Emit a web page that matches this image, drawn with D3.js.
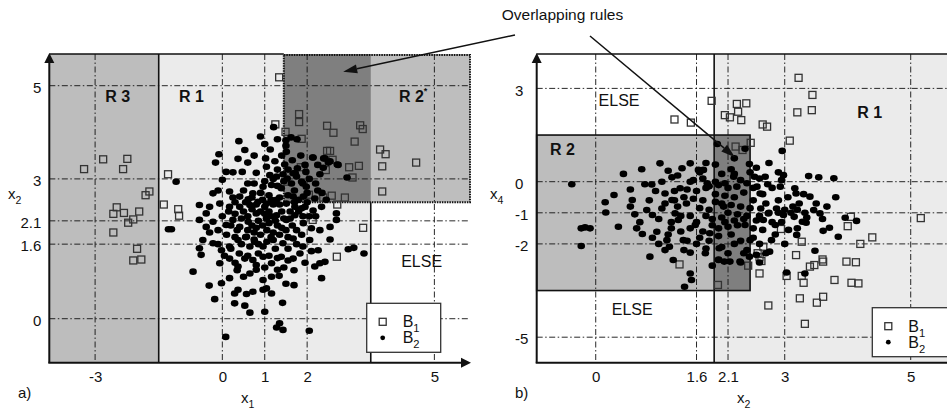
<!DOCTYPE html>
<html>
<head>
<meta charset="utf-8">
<script src="https://cdn.jsdelivr.net/npm/d3@7"></script>
<style>
  body { margin: 0; background: #fff; }
  svg { display: block; font-family: "Liberation Sans", Arial, sans-serif; }
</style>
</head>
<body>
<div id="chart"></div>
<script>
// ---- Data ----
// panel a: x1 (horizontal) vs x2 (vertical)
const aTicksX = [-3, 0, 1, 2, 5];
const aTicksY = [0, 1.6, 2.1, 3, 5];
// panel b: x2 (horizontal) vs x4 (vertical)
const bTicksX = [0, 1.6, 2.1, 3, 5];
const bTicksY = [-5, -2, -1, 0, 3];

// rule boxes (data units, Infinity = open side)
const aRuleR3 = { x: [-Infinity, -1.5], y: [-Infinity, Infinity] };
const aRuleR1 = { x: [-1.5, 3.5], y: [-Infinity, Infinity] };
const aRuleR2 = { x: [1.45, Infinity], y: [2.5, Infinity] };
const bRuleR1 = { x: [1.88, Infinity], y: [-Infinity, Infinity] };
const bRuleR2 = { x: [-Infinity, 2.45], y: [-3.5, 1.5] };

// class B1 (squares), panel a
const aB1 = [[1.34,5.18],[-3.26,3.21],[-2.81,3.42],[-2.24,3.43],[-2.34,3.21],[-1.28,3.10],[-1.72,2.73],[-1.81,2.65],
  [-2.49,2.39],[-2.57,2.25],[-2.32,2.27],[-1.96,2.30],[-2.10,2.13],[-2.22,2.06],[-2.57,1.85],[-2.01,1.50],[-2.10,1.25],
  [-1.91,1.27],[-1.38,2.45],[-1.04,2.35],[-1.02,2.21],[1.25,4.17],[1.49,4.01],[1.81,4.39],[1.81,4.22],[1.87,3.86],
  [2.47,4.14],[2.62,3.99],[3.25,4.15],[3.31,4.07],[3.12,3.80],[2.47,3.60],[2.54,3.60],[2.60,3.41],[2.44,3.19],[1.85,3.25],
  [2.99,3.25],[3.22,3.28],[3.07,3.03],[1.48,2.94],[2.04,2.66],[2.38,2.60],[2.58,2.64],[2.89,2.60],[2.71,2.45],[3.72,3.63],
  [3.85,3.53],[3.77,3.27],[3.77,2.73],[4.57,3.35],[2.13,2.12],[3.32,1.95],[2.70,1.33]];

// class B2 (dots), panel a
const aB2 = [[1.21,4.11],[0.90,3.91],[0.39,3.81],[0.53,3.62],[1.13,3.63],[-0.08,3.53],[0.37,3.43],[-0.16,3.35],[1.02,3.44],
  [1.24,3.38],[1.50,3.83],[1.62,3.89],[1.76,3.85],[1.50,3.71],[1.51,3.58],[2.14,3.46],[2.39,3.44],[2.50,3.35],[2.73,3.30],
  [1.04,3.26],[1.30,3.20],[0.09,3.15],[0.25,3.14],[0.47,3.15],[0.80,3.13],[1.12,3.08],[1.28,3.05],[1.43,3.10],[1.67,3.12],
  [1.77,3.23],[1.97,3.15],[2.38,3.24],[2.94,3.03],[-1.09,2.94],[0.00,2.98],[-0.22,2.69],[0.17,2.73],[0.41,2.62],[0.61,2.56],
  [0.72,2.69],[0.96,2.83],[1.16,2.87],[1.39,2.80],[1.63,2.90],[1.87,2.94],[1.98,2.83],[1.67,2.62],[1.91,2.62],[2.18,2.58],
  [-0.54,2.44],[-0.38,2.26],[-0.06,2.47],[0.17,2.40],[0.41,2.40],[0.65,2.44],[0.84,2.51],[1.04,2.47],[1.28,2.55],[1.51,2.47],
  [1.71,2.40],[1.87,2.37],[2.14,2.32],[2.34,2.40],[2.69,2.26],[2.69,2.12],[2.54,1.97],[-1.27,1.92],[-1.20,1.92],[-0.54,2.12],
  [-0.38,1.97],[-0.22,2.08],[-0.10,1.90],[0.09,2.01],[0.25,2.12],[0.41,1.97],[0.61,2.08],[0.80,2.26],[1.04,2.15],[1.28,2.22],
  [1.51,2.12],[1.71,2.22],[1.91,2.05],[2.10,1.94],[2.30,1.90],[2.54,1.70],[-0.46,1.69],[-0.22,1.62],[-0.02,1.47],[0.17,1.55],
  [0.37,1.69],[0.57,1.76],[0.76,1.65],[0.96,1.55],[1.20,1.69],[1.43,1.62],[1.67,1.72],[1.87,1.80],[2.06,1.69],[-0.54,1.51],
  [-0.50,1.37],[-0.06,1.19],[0.17,1.29],[0.37,1.12],[0.53,1.29],[0.72,1.26],[0.96,1.33],[1.16,1.19],[1.39,1.33],[1.67,1.29],
  [1.83,1.40],[2.26,1.47],[2.97,1.49],[3.10,1.52],[3.34,1.40],[2.18,1.12],[2.30,1.19],[2.42,1.22],[2.34,0.87],[-0.69,1.01],
  [-0.31,0.71],[-0.02,0.76],[0.17,0.87],[0.35,1.04],[0.65,0.97],[0.96,0.83],[1.16,0.90],[1.34,0.92],[1.69,1.04],[1.69,0.72],
  [-0.18,0.42],[0.29,0.54],[0.37,0.62],[0.57,0.53],[0.72,0.58],[0.96,0.62],[1.04,0.65],[1.16,0.54],[1.42,0.34],[0.29,0.33],
  [0.53,0.28],[0.65,0.13],[1.00,0.15],[1.28,-0.19],[1.35,-0.10],[1.43,-0.24],[2.05,-0.26],[0.08,-0.39],[1.53,3.01],[1.75,3.05],
  [1.47,3.31],[1.72,3.12],[2.13,3.46],[2.42,3.44],[2.54,3.38],[2.71,3.31],
  [0.50,2.30],[0.60,2.20],[0.70,2.35],[0.90,2.30],[1.00,2.40],[1.10,2.30],[1.20,2.45],[0.85,2.10],[0.95,2.00],[1.10,2.05],
  [1.30,2.00],[1.40,2.30],[0.60,1.90],[0.75,1.85],[0.90,1.80],[1.05,1.90],[1.20,1.85],[1.35,1.80],[1.50,1.90],[0.30,2.25],
  [0.20,2.00],[0.10,1.80],[0.30,1.75],[0.45,1.60],[0.65,1.55],[0.85,1.60],[1.05,1.65],[1.25,1.50],[1.55,1.50],[1.65,2.00],
  [1.75,1.90],[1.80,2.55],[1.55,2.65],[1.35,2.60],[1.10,2.65],[0.90,2.70],[0.50,2.75],[0.30,2.50],[0.00,2.20],[-0.10,1.60],
  [1.60,2.30],[1.90,2.20],[2.00,2.50],[1.45,2.95],[1.20,3.00],[1.00,2.95],[0.75,2.90],[1.70,2.75],[2.20,2.20],[0.40,1.40],
  [0.60,1.35],[0.85,1.40],[1.10,1.35],[1.30,1.30],[1.55,1.25],[0.20,1.50],[1.90,1.55],[2.10,1.45],[1.00,1.10],[0.80,1.15],
  [1.30,1.05],[0.50,0.90],[1.50,0.75],[1.90,2.90],[2.05,3.00],[2.20,2.90],[2.45,2.55],[2.35,2.70],
  [0.45,2.15],[0.55,2.50],[0.70,2.60],[0.80,2.45],[0.95,2.55],[1.15,2.20],[1.25,2.10],[1.35,2.45],[1.45,2.15],[1.60,2.15],
  [1.70,2.50],[1.80,2.30],[1.95,2.40],[2.05,2.20],[0.70,2.00],[0.80,1.95],[1.00,2.25],[1.15,2.55],[0.55,1.75],[0.75,1.70],
  [1.15,1.75],[1.40,1.95],[1.55,1.75],[1.75,1.60],[0.35,1.90],[0.15,2.30],[0.25,2.60],[0.60,2.90],[1.30,2.85],[1.55,3.20],
  [1.65,3.40],[1.40,3.50],[1.85,3.50],[2.00,2.70],[2.25,2.75],[1.95,3.30],[2.30,3.10],[0.05,1.35],[0.30,1.20],[0.80,1.05],
  [1.45,1.10],[1.95,1.20],[-0.30,1.85],[-0.30,2.40],[-0.10,2.75],[0.60,3.35],[0.75,3.50],[1.00,3.75],[1.30,3.85],[2.25,3.30]];

// class B1 (squares), panel b
const bB1 = [[3.22,3.34],[3.44,2.79],[3.43,2.30],[3.20,2.23],[1.84,2.60],[2.24,2.50],[2.39,2.52],[2.26,2.25],[2.05,2.14],
  [2.13,2.07],[2.31,1.98],[1.25,2.00],[1.51,1.90],[2.65,1.84],[2.72,1.77],[3.08,1.32],[2.46,1.25],[2.22,1.13],[2.33,1.02],
  [4.05,-1.13],[4.00,-1.43],[5.16,-1.17],[4.39,-1.79],[4.20,-2.00],[2.94,-1.52],[3.27,-1.93],[2.66,-2.09],[2.57,-2.30],
  [2.60,-2.43],[2.63,-2.55],[3.18,-2.36],[3.60,-2.50],[3.61,-2.57],[3.47,-2.68],[3.40,-2.73],[3.98,-2.57],[4.13,-2.59],
  [2.42,-2.70],[2.60,-2.95],[3.03,-3.03],[3.27,-3.03],[3.30,-3.25],[3.79,-3.16],[4.06,-3.25],[4.17,-3.27],[1.33,-2.66],
  [1.94,-3.32],[3.24,-3.75],[3.51,-3.89],[3.61,-3.70],[2.74,-3.98],[3.32,-4.57]];

// class B2 (dots), panel b
const bB2 = [[-0.38,-0.08],[-0.23,-1.50],[-0.17,-1.47],[-0.09,-1.50],[-0.23,-2.07],[0.15,-0.66],[0.16,-0.99],[0.29,-0.43],
  [0.36,-1.45],[0.44,0.25],[0.55,-0.25],[0.58,-0.59],[0.62,-1.05],[0.73,0.40],[0.74,-1.68],[0.78,-0.08],[0.81,-0.91],
  [0.86,-2.41],[0.89,-0.09],[0.90,-1.07],[0.97,-1.61],[1.02,0.59],[1.05,-0.86],[1.10,-0.38],[1.13,-1.88],[1.17,-2.09],
  [1.21,0.14],[1.21,-0.59],[1.23,-2.52],[1.26,-1.02],[1.31,-1.23],[1.34,-0.21],[1.37,0.43],[1.39,-1.88],[1.41,-3.38],
  [1.44,-0.70],[1.50,0.59],[1.50,-2.95],[1.50,-2.28],[1.52,-3.16],[1.55,0.05],[1.58,-1.39],[1.63,0.38],[1.71,0.38],
  [1.74,-2.30],[1.77,-0.05],[1.81,-1.66],[1.93,1.21],[2.37,1.06],[1.95,-0.11],[1.95,-2.52],[1.96,-2.14],[2.03,-0.80],
  [2.04,-2.57],[2.13,-2.57],[2.19,0.16],[2.24,-0.16],[2.29,-2.57],[2.35,-2.30],[2.37,-1.39],[2.44,0.57],[2.45,-1.88],
  [2.44,-2.41],[2.52,0.16],[2.56,-0.16],[2.61,-0.38],[2.62,-0.86],[2.66,-1.23],[2.69,0.16],[2.73,-0.08],[2.74,-1.02],
  [2.76,-2.25],[2.79,-1.88],[2.85,-1.39],[2.87,-0.86],[2.93,-0.16],[2.95,0.05],[2.96,0.99],[2.98,0.21],[2.98,-1.07],
  [3.03,-2.92],[3.06,-1.55],[3.13,-0.80],[3.15,-1.13],[3.16,-0.21],[3.18,-0.38],[3.19,-1.71],[3.23,-0.70],[3.28,-1.29],
  [3.32,-1.00],[3.34,-1.32],[3.38,0.18],[3.40,-0.48],[3.46,-0.91],[3.48,-2.22],[3.54,0.14],[3.56,-1.02],[3.61,-1.58],
  [3.67,-0.80],[3.71,-1.48],[3.78,0.11],[3.81,-0.50],[3.85,-1.77],[3.96,-1.16],[4.14,-1.26],[3.32,-2.95],
  [1.60,-0.30],[1.70,-0.60],[1.80,-0.90],[1.90,-0.40],[2.00,-0.70],[2.10,-1.00],[2.20,-0.50],[2.30,-0.80],[2.40,-1.10],
  [2.50,-0.60],[1.50,-1.10],[1.60,-1.30],[1.70,-1.60],[1.85,-1.20],[1.95,-1.50],[2.05,-1.30],[2.15,-1.70],[2.25,-1.40],
  [2.35,-1.20],[2.50,-1.50],[2.60,-1.10],[2.70,-0.70],[2.80,-1.30],[1.40,-0.50],[1.30,-0.80],[1.20,-1.30],[1.35,-1.60],
  [1.45,-1.90],[1.60,-2.00],[1.80,-1.90],[2.00,-2.10],[2.20,-2.00],[2.40,-2.20],[2.60,-2.00],[1.50,0.00],[1.70,0.10],
  [1.90,0.00],[2.10,-0.20],[2.30,0.05],[2.50,-0.20],[2.45,0.30],[2.15,0.40],[1.90,0.55],[1.75,-0.20],[2.05,-0.05],
  [2.65,-0.40],[2.90,-0.60],[3.00,-0.90],[2.95,-1.30],[3.10,-1.00],[2.85,-1.70],[1.10,-0.70],[1.00,-1.20],[1.15,-1.70],
  [0.95,-0.30],[1.25,-0.30],[2.00,0.25],[2.20,0.75],[1.95,-2.50],[2.30,-2.60],[1.85,-2.70],[2.60,-2.60],[3.30,-0.40],
  [3.50,-0.70],[3.20,-1.50],[3.60,-1.20],[1.65,0.30],[1.30,0.20],[2.75,0.60],[2.55,-2.35],[1.10,-2.20],[0.70,-1.30],
  [0.55,-0.80],[0.90,-1.80],[1.05,0.00],
  [1.45,-0.25],[1.55,-0.55],[1.65,-0.85],[1.75,-1.10],[1.85,-1.40],[1.95,-1.75],[2.05,-0.45],[2.15,-0.75],[2.25,-1.05],
  [2.35,-0.35],[2.45,-0.85],[2.55,-1.25],[2.65,-1.55],[2.75,-1.00],[1.90,-0.65],[2.00,-1.15],[2.10,-1.45],[2.20,-1.25],
  [1.65,-1.80],[1.35,-1.10],[1.25,-0.60],[1.50,-1.50],[1.80,-0.15],[2.40,-0.05],[2.60,0.10],[2.80,-0.20],[2.90,-1.00],
  [3.05,-0.50],[3.20,-0.90],[3.35,-1.15],[2.50,-1.80],[2.30,-1.90],[2.10,-2.30],[1.75,-2.15],[1.40,-2.20],[1.20,-1.50],
  [0.85,-0.60],[0.65,-1.50],[1.00,-2.00],[2.70,-2.30],[3.00,-2.00],[2.90,0.30],[2.20,0.25],[1.75,0.60],[2.55,0.45],[1.15,0.35]];

// ---- Layout ----
const svg = d3.select("#chart").append("svg")
  .attr("width", 947)
  .attr("height", 410);

const INK = "#111";
const gridDash = "6,2.5,1.5,2.5";

function arrow(g, x1, y1, x2, y2, len, half, w) {
  const dx = x2 - x1, dy = y2 - y1, L = Math.hypot(dx, dy);
  const ux = dx / L, uy = dy / L;
  const bx = x2 - ux * len, by = y2 - uy * len;
  g.append("line")
    .attr("x1", x1).attr("y1", y1).attr("x2", bx).attr("y2", by)
    .attr("stroke", INK).attr("stroke-width", w);
  g.append("path")
    .attr("d", `M${x2},${y2}L${bx - uy * half},${by + ux * half}L${bx + uy * half},${by - ux * half}Z`)
    .attr("fill", INK);
}

function subText(g, x, y, main, sub, size, anchor, weight) {
  const t = g.append("text")
    .attr("x", x).attr("y", y)
    .attr("font-size", size)
    .attr("text-anchor", anchor || "start")
    .attr("font-weight", weight || "normal")
    .attr("fill", INK);
  t.append("tspan").text(main);
  t.append("tspan").attr("font-size", size * 0.7).attr("dy", size * 0.3).text(sub);
  return t;
}

function drawPanel(p) {
  const x = d3.scaleLinear().domain(p.xDom).range([p.left, p.right]);
  const y = d3.scaleLinear().domain(p.yDom).range([p.bottom, p.top]);
  const cx = v => x(Math.max(p.xDom[0], Math.min(p.xDom[1], v)));
  const cy = v => y(Math.max(p.yDom[0], Math.min(p.yDom[1], v)));
  const box = r => ({ x: cx(r.x[0]), y: cy(r.y[1]), w: cx(r.x[1]) - cx(r.x[0]), h: cy(r.y[0]) - cy(r.y[1]) });
  const inter = (a, b) => ({
    x: [Math.max(a.x[0], b.x[0]), Math.min(a.x[1], b.x[1])],
    y: [Math.max(a.y[0], b.y[0]), Math.min(a.y[1], b.y[1])]
  });

  const g = svg.append("g");

  // Rule fills
  p.fills.forEach(f => {
    const b = box(f.rule);
    g.append("rect").attr("x", b.x).attr("y", b.y).attr("width", b.w).attr("height", b.h)
      .attr("fill", f.fill);
  });
  const ov = box(inter(p.overlap[0], p.overlap[1]));
  g.append("rect").attr("x", ov.x).attr("y", ov.y).attr("width", ov.w).attr("height", ov.h)
    .attr("fill", "#7f7f7f");

  // Gridlines
  const grid = g.append("g").attr("stroke", INK).attr("stroke-width", 0.9).attr("stroke-dasharray", gridDash);
  p.ticksX.forEach(v => grid.append("line").attr("x1", x(v)).attr("x2", x(v)).attr("y1", p.top).attr("y2", p.bottom));
  p.ticksY.forEach(v => grid.append("line").attr("y1", y(v)).attr("y2", y(v)).attr("x1", p.left).attr("x2", p.right));

  // Rule borders
  p.lines(g, x, y, cx, cy, box);

  // Points
  g.append("g").selectAll("rect").data(p.b1).join("rect")
    .attr("x", d => x(d[0]) - 3.5).attr("y", d => y(d[1]) - 3.5)
    .attr("width", 7).attr("height", 7)
    .attr("fill", "none").attr("stroke", "#333").attr("stroke-width", 1.3);
  g.append("g").selectAll("ellipse").data(p.b2).join("ellipse")
    .attr("cx", d => x(d[0])).attr("cy", d => y(d[1]))
    .attr("rx", 3.8).attr("ry", 3.3).attr("fill", "#000");

  // Axes lines with arrows
  arrow(g, p.left, p.bottom, p.left, p.top - 1, 10, 5, 2);
  arrow(g, p.left - 1, p.bottom, p.xArrow, p.bottom, 10, 5, 2);

  // Tick labels
  const ax = g.append("g").attr("transform", `translate(0,${p.bottom})`)
    .call(d3.axisBottom(x).tickValues(p.ticksX).tickSize(0).tickPadding(9).tickFormat(d => String(d)));
  ax.select(".domain").remove();
  ax.selectAll("text").attr("font-size", 15).attr("font-family", "Liberation Sans, Arial, sans-serif").attr("fill", INK);

  const ay = g.append("g").attr("transform", `translate(${p.left},0)`)
    .call(d3.axisLeft(y).tickValues(p.ticksY).tickSize(0).tickPadding(p.yPad).tickFormat(d => String(d)));
  ay.select(".domain").remove();
  ay.selectAll("text").attr("font-size", 15).attr("font-family", "Liberation Sans, Arial, sans-serif").attr("fill", INK)
    .attr("dy", "0.45em");
  if (p.yAnchor === "start") ay.selectAll("text").attr("text-anchor", "start").attr("x", p.yLabelX - p.left);

  // Axis titles & panel tag
  subText(g, p.xTitle[0], p.xTitle[1], "x", p.xTitle[2], 15, "start");
  subText(g, p.yTitle[0], p.yTitle[1], "x", p.yTitle[2], 15, "start");
  g.append("text").attr("x", p.tag[0]).attr("y", p.tag[1]).attr("font-size", 15).attr("fill", INK).text(p.tag[2]);

  // Region labels
  p.labels.forEach(l => {
    const t = g.append("text").attr("x", x(l.at[0])).attr("y", y(l.at[1]))
      .attr("text-anchor", "middle").attr("font-size", 16)
      .attr("font-weight", l.bold ? "bold" : "normal").attr("fill", INK).text(l.text);
    if (l.sup) t.append("tspan").attr("font-size", 9).attr("dy", -8).text(l.sup);
  });

  // Legend
  const L = p.legend;
  g.append("rect").attr("x", L.x).attr("y", L.y).attr("width", L.w).attr("height", L.h)
    .attr("fill", "#fff").attr("stroke", "#333").attr("stroke-width", 1.3);
  g.append("rect").attr("x", L.x + 12.5).attr("y", L.y + 15).attr("width", 7).attr("height", 7)
    .attr("fill", "none").attr("stroke", "#333").attr("stroke-width", 1.3);
  g.append("circle").attr("cx", L.x + 16).attr("cy", L.y + 34.5).attr("r", 2.4).attr("fill", "#000");
  subText(g, L.x + 36, L.y + 24, "B", "1", 16, "start");
  subText(g, L.x + 36, L.y + 40, "B", "2", 16, "start");

  return { x, y };
}

// Panel a
const pa = drawPanel({
  xDom: [-4.08, 5.84], yDom: [-0.944, 5.68],
  left: 49.3, right: 470, top: 54, bottom: 362.7, xArrow: 471,
  ticksX: aTicksX, ticksY: aTicksY, yPad: 8, yAnchor: "end",
  b1: aB1, b2: aB2,
  fills: [{ rule: aRuleR3, fill: "#bdbdbd" }, { rule: aRuleR1, fill: "#ebebeb" }, { rule: aRuleR2, fill: "#bebebe" }],
  overlap: [aRuleR1, aRuleR2],
  lines: (g, x, y, cx, cy, box) => {
    const r3 = box(aRuleR3), r1 = box(aRuleR1), r2 = box(aRuleR2);
    const s = g.append("g").attr("stroke", INK).attr("stroke-width", 1.6).attr("fill", "none");
    s.append("line").attr("x1", r3.x).attr("x2", r2.x).attr("y1", r3.y).attr("y2", r3.y);
    s.append("line").attr("x1", r1.x).attr("x2", r1.x).attr("y1", r1.y).attr("y2", r1.y + r1.h);
    s.append("line").attr("x1", r1.x + r1.w).attr("x2", r1.x + r1.w).attr("y1", r2.y + r2.h).attr("y2", r1.y + r1.h);
    g.append("rect").attr("x", r2.x).attr("y", r2.y + 1).attr("width", r2.w).attr("height", r2.h - 1)
      .attr("fill", "none").attr("stroke", INK).attr("stroke-width", 2).attr("stroke-dasharray", "1.5,1");
  },
  labels: [
    { text: "R 3", at: [-2.47, 4.66], bold: true },
    { text: "R 1", at: [-0.73, 4.66], bold: true },
    { text: "R 2", at: [4.50, 4.66], bold: true, sup: "*" },
    { text: "ELSE", at: [4.70, 1.12] }
  ],
  legend: { x: 366.7, y: 303.3, w: 74, h: 49 },
  xTitle: [241, 403, "1"], yTitle: [8, 199, "2"], tag: [18, 398, "a)"]
});

// Panel b
const pb = drawPanel({
  xDom: [-0.937, 5.576], yDom: [-5.82, 4.106],
  left: 536.7, right: 947, top: 54, bottom: 362.7, xArrow: 957,
  ticksX: bTicksX, ticksY: bTicksY, yPad: 8, yAnchor: "start", yLabelX: 515,
  b1: bB1, b2: bB2,
  fills: [{ rule: bRuleR1, fill: "#ebebeb" }, { rule: bRuleR2, fill: "#bdbdbd" }],
  overlap: [bRuleR1, bRuleR2],
  lines: (g, x, y, cx, cy, box) => {
    const r1 = box(bRuleR1), r2 = box(bRuleR2);
    const s = g.append("g").attr("stroke", INK).attr("stroke-width", 1.6).attr("fill", "none");
    s.append("line").attr("x1", r2.x).attr("x2", 947).attr("y1", r1.y).attr("y2", r1.y);
    s.append("line").attr("x1", r1.x).attr("x2", r1.x).attr("y1", r1.y).attr("y2", r1.y + r1.h);
    s.append("rect").attr("x", r2.x).attr("y", r2.y).attr("width", r2.w).attr("height", r2.h);
  },
  labels: [
    { text: "ELSE", at: [0.37, 2.44] },
    { text: "ELSE", at: [0.58, -4.30] },
    { text: "R 2", at: [-0.53, 0.86], bold: true },
    { text: "R 1", at: [4.35, 2.04], bold: true }
  ],
  legend: { x: 872.3, y: 307.7, w: 76, h: 49 },
  xTitle: [737, 403, "2"], yTitle: [490, 199, "4"], tag: [515, 398, "b)"]
});

// Annotation
const note = svg.append("g");
note.append("text").attr("x", 562.5).attr("y", 20).attr("text-anchor", "middle")
  .attr("font-size", 15.5).attr("fill", INK).text("Overlapping rules");
arrow(note, 515, 35, pa.x(2.85), pa.y(5.30), 14, 4.5, 1.5);
arrow(note, 590, 36, pb.x(2.21), pb.y(0.79), 14, 4.5, 1.5);
</script>
</body>
</html>
